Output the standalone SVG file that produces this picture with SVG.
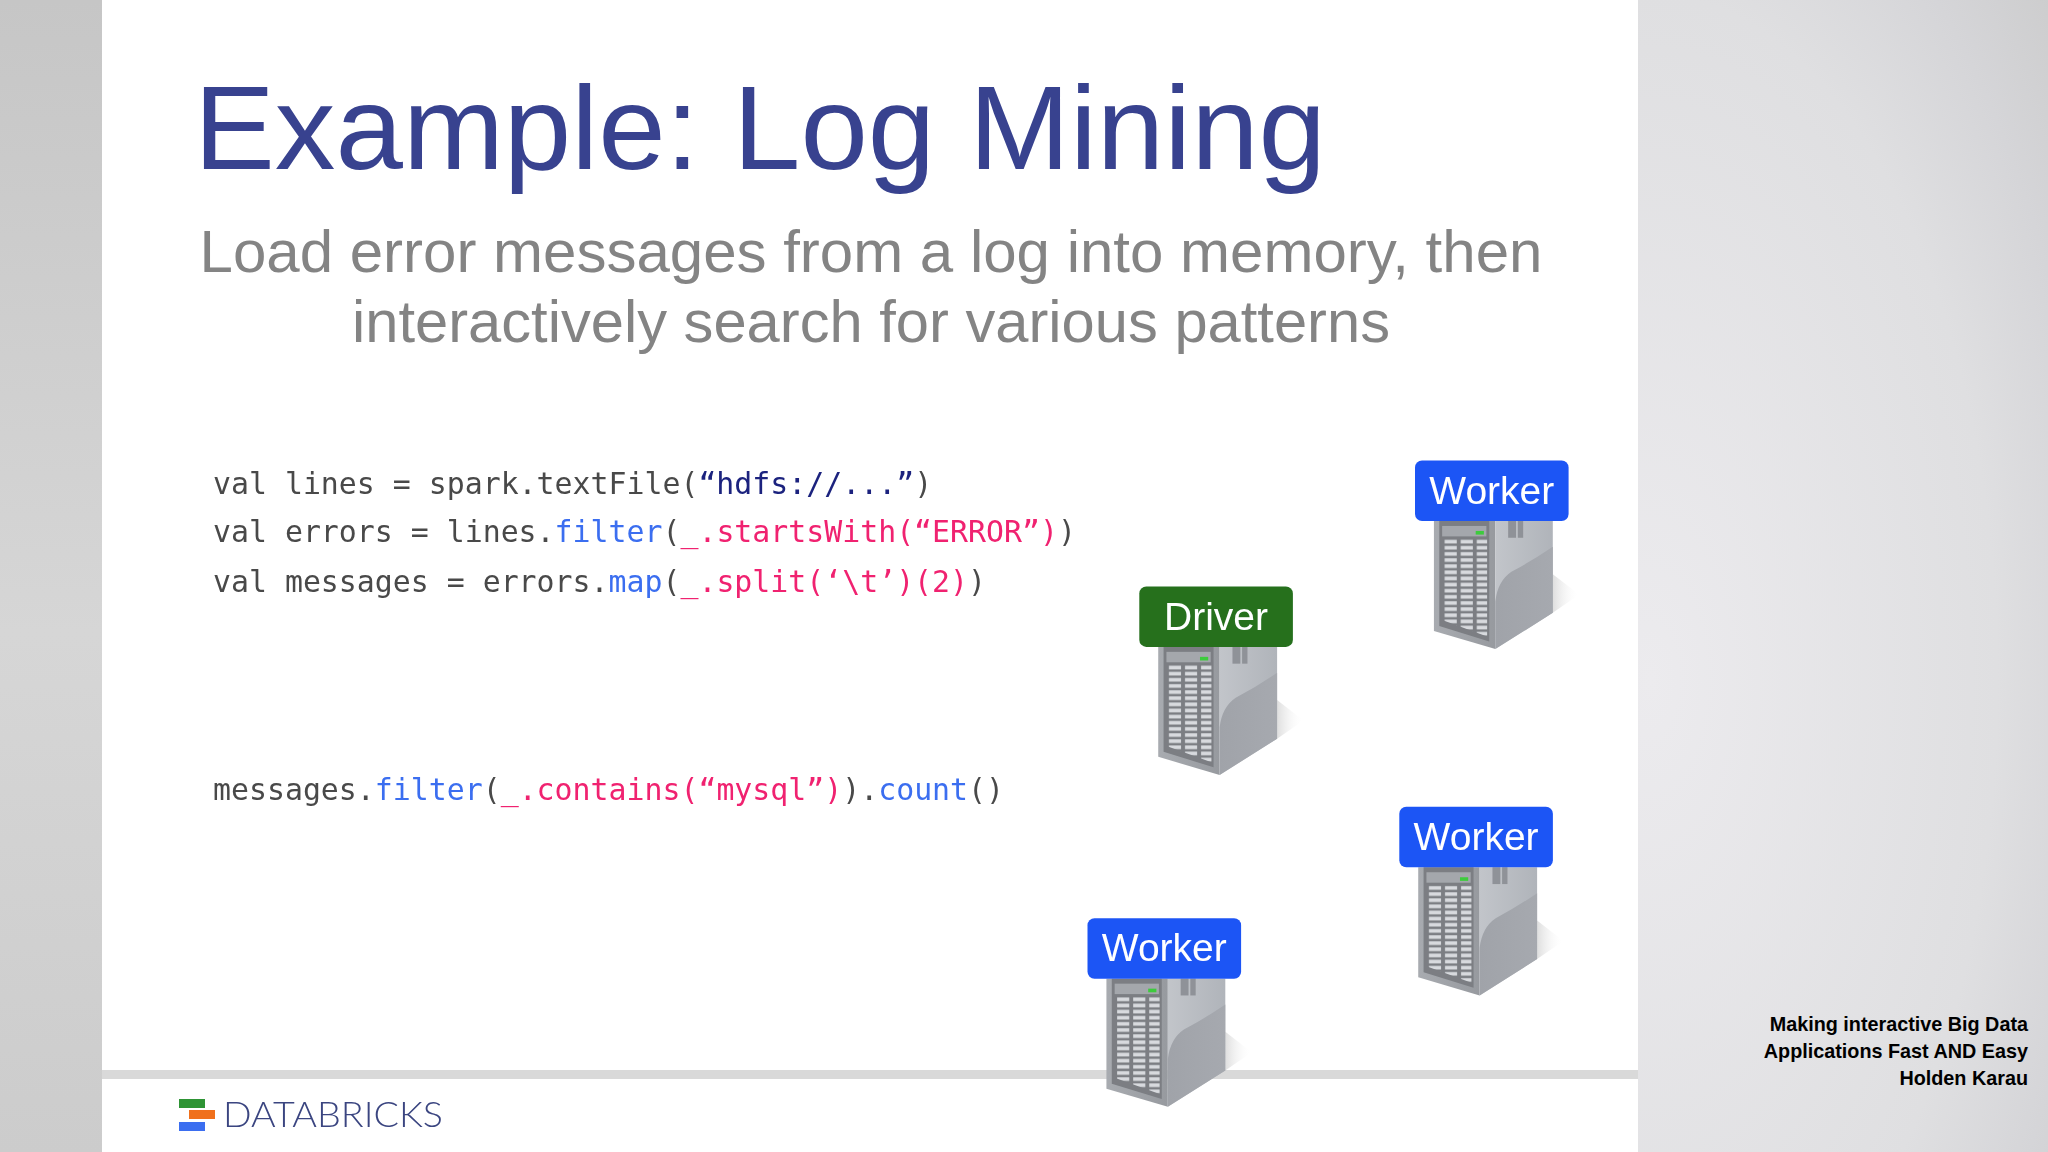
<svg xmlns="http://www.w3.org/2000/svg" xmlns:xlink="http://www.w3.org/1999/xlink" width="2048" height="1152" viewBox="0 0 2048 1152">
<style>
.sans{font-family:"Liberation Sans",Arial,sans-serif}
.code{font-family:"DejaVu Sans Mono","Liberation Mono",monospace;font-size:29.87px;fill:#4a4a4a}
.b{fill:#3b6ef0}.p{fill:#f0206f}.n{fill:#1a237e}
.lab{font-family:"Liberation Sans",Arial,sans-serif;font-size:39px;fill:#fff;text-anchor:middle}
.note{font-family:"Liberation Sans",Arial,sans-serif;font-size:19.8px;font-weight:bold;fill:#000;text-anchor:end}
</style>
<defs>
<radialGradient id="bgr" gradientUnits="userSpaceOnUse" cx="0" cy="0" r="1" gradientTransform="translate(1650,680) scale(560,1105)">
<stop offset="0" stop-color="#ecebee"/><stop offset=".62" stop-color="#dfdfe1"/><stop offset=".8" stop-color="#d5d5d8"/><stop offset="1" stop-color="#cacaca"/>
</radialGradient>
<linearGradient id="bgl" x1="0" x2="0" y1="0" y2="1"><stop offset="0" stop-color="#c6c6c6"/><stop offset=".55" stop-color="#d6d6d6"/><stop offset="1" stop-color="#cccccc"/></linearGradient>
<linearGradient id="front" x1="0" x2="1" y1="0" y2="0"><stop offset="0" stop-color="#a8abb0"/><stop offset="1" stop-color="#979a9f"/></linearGradient>
<linearGradient id="side" x1="0" x2="1" y1="0" y2="0"><stop offset="0" stop-color="#c2c5ca"/><stop offset="1" stop-color="#b0b4ba"/></linearGradient>
<linearGradient id="shade" x1="0" x2="1" y1="0" y2="0"><stop offset="0" stop-color="#a0a3a9"/><stop offset="1" stop-color="#a6a9af"/></linearGradient>
<linearGradient id="shadow" x1="0" x2="1" y1="0" y2="0"><stop offset="0" stop-color="#c8c8c8" stop-opacity=".6"/><stop offset="1" stop-color="#ffffff" stop-opacity="0"/></linearGradient>
<pattern id="vents" patternUnits="userSpaceOnUse" x="0" y="0" width="45" height="13.5">
<rect x="3" y="2.5" width="34" height="8" fill="#d8dade"/>
</pattern>
<filter id="soft" x="-5%" y="-5%" width="110%" height="110%"><feGaussianBlur stdDeviation="0.7"/></filter>
<g id="server">
<polygon points="386,250 460,295 386,335" fill="url(#shadow)"/>
<polygon points="53,133 225,133 225,415 53,375" fill="url(#front)"/>
<polygon points="225,133 386,133 386,335 225,415" fill="url(#side)"/>
<path d="M225,415 L225,310 Q232,265 270,245 Q330,220 386,190 L386,335 Z" fill="url(#shade)"/>
<rect x="261" y="133" width="22" height="37" fill="#8f9298"/><rect x="288" y="133" width="15" height="37" fill="#8f9298"/>
<polygon points="68,133 208,133 208,398 68,364" fill="#7b7e83"/>
<rect x="76" y="144" width="124" height="23" fill="#a4a7ac"/>
<rect x="170" y="155" width="23" height="8" fill="#3ecb3e"/>
<polygon transform="translate(80,172)" points="0,0 122,0 122,215 0,180" fill="url(#vents)"/>
</g>
</defs>
<g filter="url(#soft)">
<rect id="bg-right" x="1600" width="448" height="1152" fill="url(#bgr)"/>
<rect id="bg-left" width="120" height="1152" fill="url(#bgl)"/>
<rect x="102" y="0" width="1536" height="1152" fill="#fff"/>
<rect x="102" y="1070" width="1536" height="9" fill="#d9d9d9"/>

<text class="sans" x="194" y="169" font-size="118" fill="#39438f" textLength="1132" lengthAdjust="spacingAndGlyphs">Example: Log Mining</text>
<g class="sans" font-size="60" fill="#848484" text-anchor="middle">
<text x="871" y="272">Load error messages from a log into memory, then</text>
<text x="871" y="342" textLength="1038" lengthAdjust="spacingAndGlyphs">interactively search for various patterns</text>
</g>
<text class="code" x="213" y="494">val lines = spark.textFile(<tspan class="n">“hdfs://...”</tspan>)</text>
<text class="code" x="213" y="542">val errors = lines.<tspan class="b">filter</tspan>(<tspan class="p">_.startsWith(“ERROR”)</tspan>)</text>
<text class="code" x="213" y="592">val messages = errors.<tspan class="b">map</tspan>(<tspan class="p">_.split(‘\t’)(2)</tspan>)</text>
<text class="code" x="213" y="800">messages.<tspan class="b">filter</tspan>(<tspan class="p">_.contains(“mysql”)</tspan>).<tspan class="b">count</tspan>()</text>

<g id="driver"><use xlink:href="#server" href="#server" transform="translate(1139.3,586.4) scale(.357,.4545)"/><rect x="1139.3" y="586.4" width="153.6" height="60.5" rx="7" fill="#25701f"/><text class="lab" x="1216" y="630">Driver</text></g>
<g id="worker-1"><use xlink:href="#server" href="#server" transform="translate(1415,460.5) scale(.357,.4545)"/><rect x="1415" y="460.5" width="153.6" height="60.5" rx="7" fill="#1f55f5"/><text class="lab" x="1491.8" y="504">Worker</text></g>
<g id="worker-2"><use xlink:href="#server" href="#server" transform="translate(1399.3,806.8) scale(.357,.4545)"/><rect x="1399.3" y="806.8" width="153.6" height="60.5" rx="7" fill="#1f55f5"/><text class="lab" x="1476.1" y="850">Worker</text></g>
<g id="worker-3"><use xlink:href="#server" href="#server" transform="translate(1087.5,918.2) scale(.357,.4545)"/><rect x="1087.5" y="918.2" width="153.6" height="60.5" rx="7" fill="#1f55f5"/><text class="lab" x="1164.3" y="961">Worker</text></g>

<g id="logo">
<rect x="179" y="1099" width="26" height="9" fill="#2f9436"/>
<rect x="189" y="1110" width="26" height="9" fill="#f0701a"/>
<rect x="179" y="1122" width="26" height="9" fill="#3b6ef0"/>
<text x="223" y="1127" font-family="Lato,'Liberation Sans',sans-serif" font-weight="300" font-size="35" fill="#3a4580" textLength="220" lengthAdjust="spacingAndGlyphs">DATABRICKS</text>
</g>
</g>
<g id="connectors"></g>
<text class="note" x="2028" y="1031">Making interactive Big Data</text>
<text class="note" x="2028" y="1058">Applications Fast AND Easy</text>
<text class="note" x="2028" y="1085">Holden Karau</text>
</svg>
